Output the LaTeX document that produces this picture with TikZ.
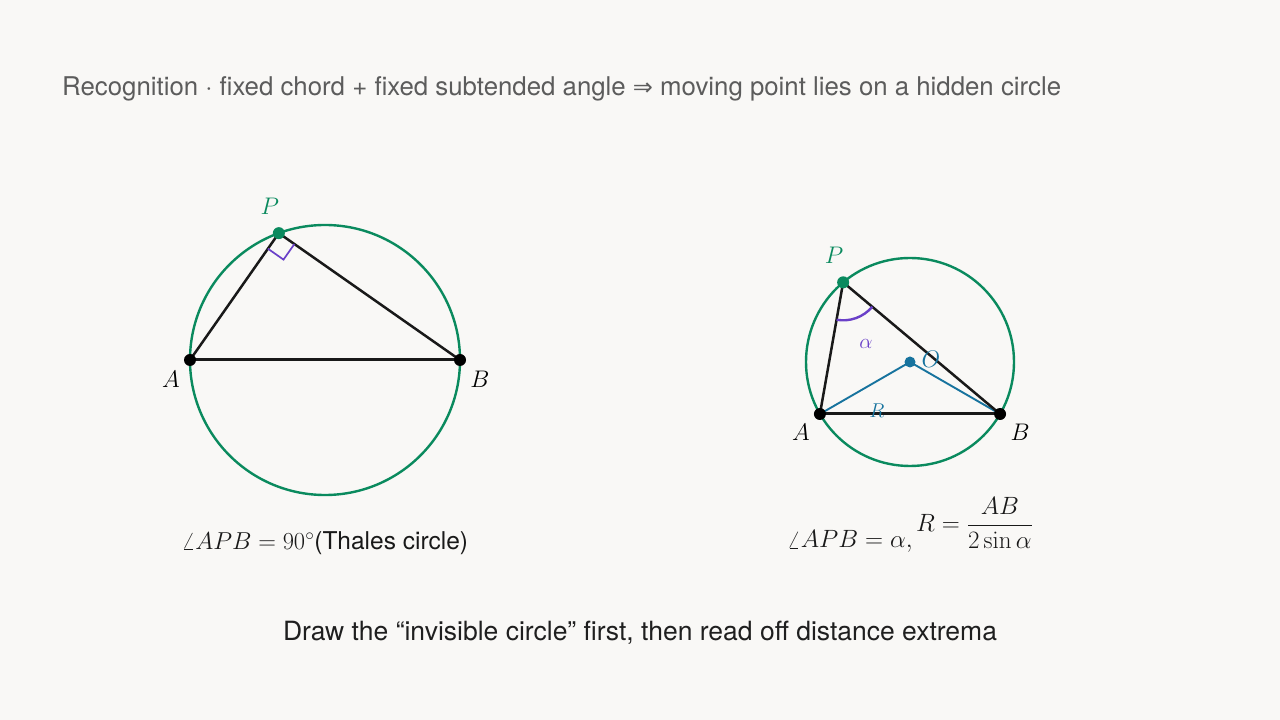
\RequirePackage{fix-cm}
\documentclass[tikz,border=0pt]{standalone}
\usepackage{amsmath}
\usepackage[no-math]{fontspec}
\setmainfont{TeX Gyre Heros}
\newfontfamily\arrowfont{DejaVu Sans}
\usetikzlibrary{calc}
\definecolor{bgcol}{HTML}{F9F8F6}
\definecolor{circgreen}{HTML}{0A8A5E}
\definecolor{markviolet}{HTML}{6A40C8}
\definecolor{radblue}{HTML}{17739E}
\definecolor{titlegray}{HTML}{5C5C5C}
\tikzset{
  circ/.style={draw=circgreen,line width=2.4pt},
  side/.style={draw=black!90,line width=2.5pt},
  dot/.style={circle,fill=#1,inner sep=0pt,minimum size=12pt},
  ptlabel/.style={font=\fontsize{24}{28}\selectfont},
  caption/.style={font=\fontsize{#1}{30}\selectfont,text=black!90},
}
\begin{document}
\begin{tikzpicture}[x=1pt,y=1pt]
\useasboundingbox[fill=bgcol] (0,0) rectangle (1280,720);
%Titel
	\node[anchor=west,inner sep=0pt,text=titlegray,font=\fontsize{25.8}{30}\selectfont] (title) at (62,631)
		{Recognition $\cdot$ fixed chord + fixed subtended angle {\arrowfont\fontsize{24}{26}\selectfont ⇒} moving point lies on a hidden circle};
%Thaleskreis
	\coordinate (O1) at (325,360);
	\coordinate (A1) at ($(O1)+(180:135)$);
	\coordinate (B1) at ($(O1)+(0:135)$);
	\coordinate (P1) at ($(O1)+(110:135)$);
	\draw[circ] (O1) circle (135);
	\draw[side] (A1) -- (P1) -- (B1);
	\draw[side,line width=3pt] (A1) -- (B1);
	%rechter Winkel
	\coordinate (Pa) at ($(P1)!19pt!(A1)$);
	\coordinate (Pb) at ($(P1)!19pt!(B1)$);
	\draw[markviolet,line width=1.7pt] (Pa) -- ($(Pa)+(Pb)-(P1)$) -- (Pb);
	\node[dot=black] at (A1) {};
	\node[dot=black] at (B1) {};
	\node[dot=circgreen] at (P1) {};
	\node[ptlabel,text=circgreen] (labP1) at ($(P1)+(-9,27)$) {$P$};
	\node[ptlabel] (labA1) at ($(A1)+(-19,-19)$) {$A$};
	\node[ptlabel] (labB1) at ($(B1)+(20,-19)$) {$B$};
	\node[caption=24.5] (capL) at (325,177)
		{$\angle APB = 90^\circ$(Thales circle)};
%Allgemeiner Fall
	\coordinate (O2) at (910,358);
	\coordinate (A2) at ($(O2)+(210:104)$);
	\coordinate (B2) at ($(O2)+(330:104)$);
	\coordinate (P2) at ($(O2)+(130:104)$);
	\draw[circ] (O2) circle (104);
	\draw[radblue,line width=1.9pt] (A2) -- (O2) -- (B2);
	\draw[side] (A2) -- (P2) -- (B2);
	\draw[side,line width=3pt] (A2) -- (B2);
	%Winkel alpha
	\draw[markviolet,line width=2.4pt] ($(P2)+(260:38)$) arc[start angle=260,end angle=320,radius=38];
	\node[dot=black] at (A2) {};
	\node[dot=black] at (B2) {};
	\node[dot=radblue,minimum size=11pt] at (O2) {};
	\node[dot=circgreen] at (P2) {};
	\node[ptlabel,text=circgreen] (labP2) at ($(P2)+(-9,27)$) {$P$};
	\node[ptlabel] (labA2) at ($(A2)+(-19,-18)$) {$A$};
	\node[ptlabel] (labB2) at ($(B2)+(20,-18)$) {$B$};
	\node[ptlabel,text=radblue] (labO) at ($(O2)+(21,3)$) {$O$};
	\node[text=radblue,font=\fontsize{20}{24}\selectfont] (labR) at (877,309) {$R$};
	\node[text=markviolet,font=\fontsize{21}{24}\selectfont] (labal) at (866,376) {$\alpha$};
	\node[caption=25,anchor=base west,inner sep=0pt] (capR1) at (787,172)
		{$\angle APB = \alpha,$};
	\node[caption=25,anchor=west,inner sep=0pt] (capR2) at (916,197)
		{$R = \dfrac{AB}{2\sin\alpha}$};
%Fusszeile
	\node[text=black!88,font=\fontsize{26.5}{30}\selectfont] (foot) at (640,87)
		{Draw the “invisible circle” first, then read off distance extrema};
\end{tikzpicture}
\end{document}
